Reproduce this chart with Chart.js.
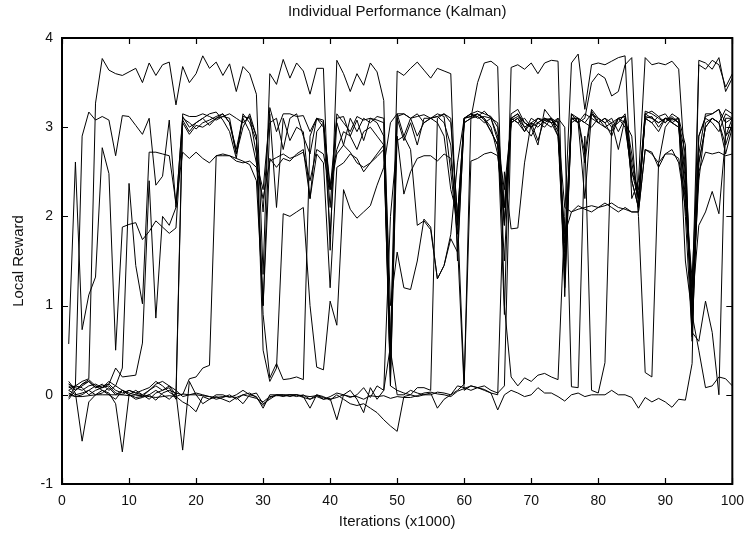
<!DOCTYPE html>
<html>
<head>
<meta charset="utf-8">
<title>Individual Performance (Kalman)</title>
<script src="https://cdn.jsdelivr.net/npm/chart.js@4/dist/chart.umd.min.js"></script>
<style>
  html, body { margin: 0; padding: 0; background: #fff; }
  canvas { display: block; }
</style>
</head>
<body>
<canvas id="perfChart" width="753" height="536"></canvas>
<script>
// iterations (x1000), one sample per thousand
const iterations = Array.from({ length: 100 }, (_, i) => i + 1);

const xTicks = [0, 10, 20, 30, 40, 50, 60, 70, 80, 90, 100];
const yTicks = [-1, 0, 1, 2, 3, 4];

// local reward of each agent
const agentA = [0.05,0.1,0.15,0.18,3.27,3.77,3.64,3.6,3.58,3.62,
  3.66,3.5,3.72,3.58,3.7,3.73,3.25,3.68,3.5,3.6,
  3.8,3.66,3.73,3.58,3.71,3.4,3.68,3.6,3.37,1.35,
  3.6,3.48,3.76,3.55,3.72,3.63,3.37,3.66,3.66,1.62,
  3.75,3.6,3.4,3.6,3.47,3.72,3.62,3.3,0.55,3.63,
  3.58,3.66,3.73,3.64,3.55,3.66,3.63,3.6,1.5,3.1,
  3.15,3.12,3.18,3.1,3.05,2.1,3.1,3.15,3.05,3.0,
  3.1,3.08,3.05,3.07,1.2,3.1,3.1,2.6,3.18,3.05,
  3.0,2.95,3.1,3.12,2.6,2.2,3.18,3.15,3.1,3.05,
  3.15,3.1,2.8,0.6,2.9,3.12,3.15,3.2,3.05,3.1];
const agentB = [0.08,0.1,2.9,3.17,3.08,3.12,3.08,2.68,3.13,3.12,
  3.02,2.92,3.1,2.35,2.45,3.08,2.1,3.12,3.0,3.05,
  3.1,3.15,3.17,3.08,2.95,2.65,3.15,3.05,2.85,2.05,
  3.22,2.95,3.15,3.15,3.12,3.13,2.95,3.1,3.08,2.1,
  3.15,3.05,2.95,3.12,3.08,3.1,3.05,2.9,0.3,3.15,
  3.15,3.1,3.12,3.14,3.1,3.15,3.12,2.5,1.8,3.1,
  3.15,3.18,3.15,3.12,3.0,1.9,3.15,3.2,3.05,3.0,
  2.8,3.2,3.1,3.05,1.5,3.1,3.1,2.7,3.2,3.1,
  3.05,2.9,3.1,3.12,2.5,2.3,3.15,3.18,3.12,3.05,
  3.12,3.05,2.5,0.9,2.7,3.15,3.15,3.2,2.9,3.1];
const agentC = [0.57,2.61,0.73,1.12,1.32,2.77,2.48,0.5,1.88,1.91,
  1.93,1.74,1.83,1.95,1.88,1.81,1.87,3.05,2.92,3.02,
  3.0,3.05,3.1,3.12,3.1,2.7,3.1,2.95,2.6,2.3,
  3.15,2.1,3.1,2.85,3.0,2.95,2.2,2.95,3.05,2.35,
  2.75,2.95,2.9,2.75,2.95,3.0,2.9,2.8,0.1,3.1,
  2.85,3.05,2.8,3.1,3.1,3.05,2.9,2.3,2.0,3.1,
  3.12,3.15,3.08,2.95,2.8,1.95,3.1,3.05,2.95,3.1,
  3.05,3.0,3.1,2.95,1.7,3.1,3.05,3.1,3.5,3.6,
  3.55,3.35,3.4,3.7,3.78,2.1,3.1,3.05,2.95,3.1,
  3.1,3.05,2.2,1.3,2.9,3.1,3.05,2.95,3.15,3.1];
const agentD = [0.12,0.05,0.1,0.15,0.08,0.12,0.05,0.1,0.3,2.37,
  1.45,1.02,2.72,2.72,2.7,2.68,2.15,2.72,2.65,2.72,
  2.65,2.6,2.68,2.68,2.68,2.62,2.6,2.62,2.55,2.2,
  2.62,2.66,2.7,2.65,2.68,2.72,2.4,2.75,2.7,2.3,
  2.7,2.8,2.72,2.6,2.55,2.6,2.67,2.75,0.2,2.9,
  2.25,2.5,2.65,2.68,2.68,2.62,2.7,2.65,1.9,3.05,
  3.1,3.15,3.1,2.95,2.8,2.3,3.05,3.1,2.95,3.05,
  3.0,3.08,3.1,2.9,1.8,2.05,2.12,2.08,2.05,2.1,
  2.12,2.15,2.1,2.08,2.05,2.05,2.75,2.72,2.55,2.7,
  2.75,2.6,2.1,1.2,2.5,2.72,2.7,2.72,2.68,2.7];
const agentE = [0.15,0.05,0.12,0.17,0.1,0.08,0.12,0.3,0.2,0.21,
  0.22,0.58,2.4,0.86,2.0,1.9,2.1,3.1,3.05,2.98,
  3.05,3.08,3.12,3.15,3.05,2.75,3.12,3.1,2.9,1.0,
  3.05,3.1,2.75,3.1,3.15,2.9,2.7,3.1,3.0,1.8,
  3.05,2.8,3.1,2.95,3.1,3.05,3.12,3.1,1.0,1.6,
  1.2,1.18,1.5,1.97,1.88,1.3,1.45,1.8,2.6,3.1,
  3.15,3.1,3.12,3.1,2.9,0.9,3.67,3.7,3.65,3.72,
  3.6,3.72,3.75,3.74,1.1,3.1,3.05,3.15,3.1,3.05,
  3.1,3.0,3.05,3.15,2.7,2.2,3.1,3.05,3.12,3.15,
  3.05,3.1,2.4,0.7,0.6,1.05,0.7,0.0,3.1,3.1];
const agentF = [0.05,0.0,0.02,0.05,0.0,0.02,0.08,0.0,0.05,0.02,
  0.0,-0.02,0.0,0.05,0.0,-0.05,0.02,0.0,0.18,0.2,
  0.3,0.33,2.68,2.7,2.68,2.65,2.62,2.58,2.4,1.0,
  2.65,2.55,2.65,2.62,2.7,2.75,2.2,2.7,2.6,1.2,
  2.55,2.6,2.7,2.65,2.5,2.6,2.7,2.8,0.5,0.0,
  0.0,0.05,0.02,0.0,0.0,0.03,0.02,0.0,0.1,0.08,
  0.05,0.08,0.1,0.05,0.02,0.1,3.1,3.05,3.1,3.0,
  3.1,3.05,3.1,3.0,1.6,3.15,3.1,3.05,3.15,3.1,
  3.05,3.1,2.95,3.1,2.4,2.1,3.12,3.1,3.05,3.1,
  3.08,3.1,1.5,0.9,0.5,0.08,0.1,0.2,0.18,0.1];
const agentG = [0.12,0.08,0.05,0.1,0.12,0.08,0.1,0.02,0.0,0.05,
  0.02,0.0,0.05,0.1,0.05,0.1,0.0,3.15,3.12,3.12,
  3.15,3.12,3.08,3.12,3.15,3.1,3.05,3.12,2.7,0.9,
  0.19,0.35,0.17,0.18,0.2,0.17,2.9,3.1,3.05,2.3,
  3.1,3.12,2.9,3.08,2.85,3.1,3.08,3.05,0.1,0.05,
  0.02,0.0,0.08,0.08,0.05,3.1,3.15,3.1,2.0,0.12,
  3.1,3.5,3.72,3.74,3.68,1.0,0.2,0.1,0.19,0.15,
  0.22,0.24,0.2,0.17,2.0,3.72,3.82,3.2,3.7,3.72,
  3.7,3.74,3.78,3.8,2.2,2.4,3.78,3.7,3.72,3.7,
  3.74,3.65,2.5,1.1,3.7,3.65,3.75,3.7,3.45,3.6];
const agentH = [0.02,-0.02,0.0,0.05,0.1,0.05,0.0,-0.05,0.05,0.0,
  0.05,0.0,-0.05,0.02,0.05,0.08,-0.05,3.08,2.95,3.05,
  3.1,3.02,3.1,3.15,3.05,2.7,3.0,3.15,2.9,0.5,
  0.15,0.3,2.03,2.0,2.05,2.1,1.0,0.31,0.28,1.05,
  0.78,2.3,2.08,1.98,2.05,2.12,2.35,2.55,3.05,3.15,
  2.9,3.1,3.15,3.05,3.1,3.12,3.05,2.8,1.7,0.05,
  0.1,0.08,0.06,0.02,0.0,2.5,1.86,1.87,2.6,3.05,
  3.1,3.05,3.0,3.1,3.0,0.09,0.08,2.9,0.05,0.02,
  0.36,3.0,3.1,3.05,2.9,2.0,0.25,0.2,2.6,3.0,
  3.1,3.05,2.7,0.8,2.6,3.0,3.1,3.05,3.2,3.15];
const agentI = [-0.03,0.1,0.08,0.0,0.05,0.08,0.15,0.1,0.05,0.0,
  -0.03,-0.02,0.05,0.12,0.15,0.1,0.05,-0.02,0.0,0.02,
  0.0,-0.02,-0.05,-0.03,0.0,-0.05,0.0,0.02,-0.03,-0.12,
  -0.03,0.0,0.0,-0.02,0.0,-0.03,-0.05,-0.02,-0.05,-0.02,
  0.02,0.0,-0.03,0.0,0.08,-0.03,0.1,0.05,2.0,2.85,
  2.9,2.75,1.9,1.95,1.85,1.3,1.45,1.75,1.6,3.05,
  3.1,3.12,3.05,3.1,2.85,1.5,3.1,3.15,3.0,2.9,
  3.05,3.1,3.05,3.1,1.3,3.05,3.1,3.05,3.0,3.1,
  3.0,3.05,3.1,3.0,2.5,2.2,3.1,3.12,3.0,3.1,
  3.05,3.0,2.3,1.0,2.4,3.05,3.1,3.05,2.8,3.05];
const agentJ = [0.0,-0.02,-0.02,-0.01,0.0,0.0,0.0,0.0,0.0,-0.01,
  0.0,-0.01,-0.02,-0.03,-0.02,-0.01,-0.02,0.01,0.0,0.0,
  -0.01,-0.02,-0.03,-0.02,-0.02,-0.03,0.0,-0.02,-0.04,-0.08,
  -0.02,-0.01,-0.01,0.0,0.0,-0.01,-0.02,-0.01,-0.03,-0.05,
  -0.03,0.0,-0.02,-0.02,-0.05,-0.01,-0.02,-0.01,-0.04,-0.02,
  -0.03,-0.03,-0.01,0.02,0.03,0.01,0.0,-0.02,0.04,0.07,
  0.1,0.08,0.05,0.02,-0.17,0.0,0.05,0.02,-0.02,0.0,
  0.08,0.02,0.02,-0.02,-0.07,0.0,0.02,-0.02,0.0,0.0,
  0.0,0.05,0.0,0.0,-0.03,-0.15,-0.03,-0.08,-0.04,-0.08,
  -0.14,-0.05,-0.06,0.35,3.75,3.72,3.65,3.78,3.4,3.55];
const agentK = [0.1,0.02,-0.52,-0.08,0.0,0.05,0.02,-0.1,-0.64,0.0,
  -0.05,-0.03,0.0,-0.06,0.02,0.05,0.02,-0.62,0.15,0.0,
  -0.1,-0.05,0.0,0.0,-0.03,0.0,0.05,0.0,-0.02,-0.15,
  0.0,0.0,-0.02,0.0,0.0,-0.02,-0.15,0.0,-0.05,-0.04,
  -0.28,0.0,0.05,-0.05,-0.2,0.08,-0.05,0.05,0.55,3.12,
  3.15,3.1,2.9,3.05,3.1,3.12,3.15,3.05,2.0,3.1,
  3.12,3.15,3.1,3.0,2.7,1.9,3.05,3.1,3.0,3.05,
  2.85,3.1,3.05,2.9,1.4,3.15,3.05,2.2,3.15,3.05,
  3.1,3.05,2.75,3.1,2.4,2.1,3.15,3.1,3.05,3.1,
  3.05,3.0,2.0,0.65,2.6,3.0,3.1,3.05,2.7,3.0];
const agentL = [-0.05,0.05,0.12,0.15,0.08,0.1,0.12,0.05,0.02,0.05,
  0.02,0.05,0.08,0.15,0.1,0.03,-0.02,-0.08,-0.12,-0.19,
  -0.02,-0.05,-0.02,-0.05,-0.08,-0.03,-0.1,0.0,0.02,-0.1,
  -0.05,0.0,0.0,0.0,-0.02,0.0,-0.05,0.0,-0.02,-0.06,
  0.0,-0.05,-0.1,-0.12,-0.1,-0.15,-0.2,-0.28,-0.35,-0.41,
  -0.02,0.0,-0.02,0.0,0.02,-0.15,-0.05,0.0,0.05,0.12,
  2.62,2.65,2.7,2.72,2.68,2.1,3.08,3.12,3.05,3.0,
  3.05,3.1,3.08,3.0,2.1,2.05,2.08,2.1,2.12,2.1,
  2.15,2.1,2.05,2.1,2.05,2.05,2.75,2.7,2.6,2.7,
  2.7,2.65,2.2,1.0,1.9,2.05,2.28,2.03,2.9,3.0];

const agents = [agentA, agentB, agentC, agentD, agentE, agentF,
                agentG, agentH, agentI, agentJ, agentK, agentL];

const FONT = "'Liberation Sans', Arial, Helvetica, sans-serif";

// gnuplot style frame with inward ticks on all four sides
const framePlugin = {
    id: 'gnuplotFrame',
    afterDraw(chart) {
        const { ctx, chartArea: a, scales } = chart;
        const len = 6;
        ctx.save();
        ctx.strokeStyle = '#000';
        ctx.lineWidth = 1.2;
        ctx.beginPath();
        xTicks.forEach(v => {
            const px = Math.round(scales.x.getPixelForValue(v)) + 0.5;
            ctx.moveTo(px, a.bottom); ctx.lineTo(px, a.bottom - len);
            ctx.moveTo(px, a.top); ctx.lineTo(px, a.top + len);
        });
        yTicks.forEach(v => {
            const py = Math.round(scales.y.getPixelForValue(v)) + 0.5;
            ctx.moveTo(a.left, py); ctx.lineTo(a.left + len, py);
            ctx.moveTo(a.right, py); ctx.lineTo(a.right - len, py);
        });
        ctx.stroke();
        ctx.lineWidth = 2;
        ctx.strokeRect(a.left, a.top, a.right - a.left, a.bottom - a.top);
        ctx.restore();
    }
};

new Chart(document.getElementById('perfChart'), {
    type: 'line',
    data: {
        datasets: agents.map((vals, k) => ({
            label: 'agent ' + (k + 1),
            data: vals.map((v, i) => ({ x: iterations[i], y: v })),
            borderColor: '#000',
            borderWidth: 1,
            pointRadius: 0,
            tension: 0,
            fill: false
        }))
    },
    options: {
        responsive: false,
        animation: false,
        devicePixelRatio: 1,
        layout: { padding: { left: 0, right: 15, top: 0, bottom: 0 } },
        plugins: {
            legend: { display: false },
            tooltip: { enabled: false },
            title: { display: false }
        },
        scales: {
            x: {
                type: 'linear',
                min: 0,
                max: 100,
                afterFit(scale) { scale.height = 52; },
                afterBuildTicks(scale) { scale.ticks = xTicks.map(v => ({ value: v })); },
                grid: { display: false, drawTicks: false },
                border: { display: false },
                ticks: { color: '#111', padding: 9, maxRotation: 0, font: { family: FONT, size: 14 } },
                title: {
                    display: true,
                    text: 'Iterations (x1000)',
                    color: '#111',
                    font: { family: FONT, size: 15 },
                    padding: { top: 0, bottom: 5 }
                }
            },
            // top axis only carries the chart title, centred over the plot like gnuplot does
            xTop: {
                type: 'linear',
                position: 'top',
                min: 0,
                max: 100,
                afterFit(scale) { scale.height = 38; },
                grid: { display: false, drawTicks: false },
                border: { display: false },
                ticks: { display: false },
                title: {
                    display: true,
                    text: 'Individual Performance (Kalman)',
                    color: '#111',
                    font: { family: FONT, size: 15 },
                    padding: { top: 3, bottom: 0 }
                }
            },
            y: {
                min: -1,
                max: 4,
                afterFit(scale) { scale.width = 62; },
                afterBuildTicks(scale) { scale.ticks = yTicks.map(v => ({ value: v })); },
                grid: { display: false, drawTicks: false },
                border: { display: false },
                ticks: { color: '#111', padding: 9, font: { family: FONT, size: 14 } },
                title: {
                    display: true,
                    text: 'Local Reward',
                    color: '#111',
                    font: { family: FONT, size: 15 },
                    padding: { top: 10, bottom: 0 }
                }
            }
        }
    },
    plugins: [framePlugin]
});
</script>
</body>
</html>
